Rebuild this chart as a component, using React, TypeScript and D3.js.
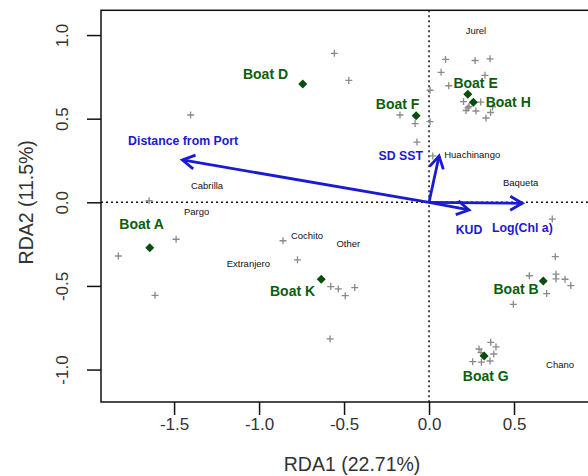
import React, { useRef, useEffect } from "react";
import * as d3 from "d3";

// site scores (grey crosses)
const sites: [number, number][] = [
  [0.097, 0.854], [0.271, 0.848], [0.359, 0.858], [0.071, 0.777], [0.329, 0.759],
  [0.116, 0.697], [0.006, 0.67], [0.203, 0.602], [0.304, 0.599], [0.235, 0.574],
  [0.218, 0.549], [0.276, 0.546], [0.374, 0.57], [0.362, 0.537], [0.335, 0.504],
  [0.229, 0.564],
  [-0.171, 0.522], [-0.082, 0.471], [0.006, 0.482], [-0.071, 0.36], [0.022, 0.277],
  [-0.557, 0.891], [-0.472, 0.729], [-1.403, 0.522],
  [-1.647, 0.01], [-1.488, -0.221], [-1.828, -0.321], [-1.612, -0.556],
  [-0.859, -0.23], [-0.774, -0.344], [-0.578, -0.504], [-0.534, -0.518],
  [-0.493, -0.558], [-0.437, -0.51], [-0.582, -0.817],
  [0.725, -0.1], [0.743, -0.325], [0.59, -0.439], [0.747, -0.43], [0.747, -0.458],
  [0.8, -0.46], [0.834, -0.498], [0.692, -0.546], [0.496, -0.61],
  [0.363, -0.837], [0.394, -0.865], [0.294, -0.877], [0.381, -0.907],
  [0.306, -0.899], [0.257, -0.953], [0.308, -0.956], [0.359, -0.949],
];

// boat centroids: name, x, y, label x, label y
const boats: [string, number, number, number, number][] = [
  ["Boat D", -0.743, 0.707, -0.962, 0.767],
  ["Boat F", -0.076, 0.518, -0.185, 0.588],
  ["Boat E", 0.228, 0.646, 0.274, 0.715],
  ["Boat H", 0.261, 0.598, 0.466, 0.6],
  ["Boat A", -1.643, -0.271, -1.691, -0.13],
  ["Boat K", -0.634, -0.46, -0.803, -0.53],
  ["Boat B", 0.672, -0.47, 0.512, -0.516],
  ["Boat G", 0.324, -0.919, 0.334, -1.042],
];

// species scores
const species: [string, number, number][] = [
  ["Jurel", 0.276, 1.026],
  ["Huachinango", 0.254, 0.287],
  ["Baqueta", 0.539, 0.115],
  ["Cabrilla", -1.306, 0.097],
  ["Pargo", -1.367, -0.056],
  ["Cochito", -0.718, -0.201],
  ["Other", -0.475, -0.249],
  ["Extranjero", -1.063, -0.365],
  ["Chano", 0.771, -0.971],
];

// environmental vectors: name, x, y, label x, label y
const envVars: [string, number, number, number, number][] = [
  ["Distance from Port", -1.451, 0.253, -1.447, 0.366],
  ["SD SST", 0.059, 0.277, -0.166, 0.277],
  ["KUD", 0.235, -0.046, 0.235, -0.166],
  ["Log(Chl a)", 0.549, -0.006, 0.549, -0.154],
];

const xTicks = [-1.5, -1.0, -0.5, 0.0, 0.5];
const yTicks = [-1.0, -0.5, 0.0, 0.5, 1.0];

export default function App() {
  const svgRef = useRef<SVGSVGElement>(null);

  useEffect(() => {
    const width = 588;
    const height = 476;
    const svg = d3.select(svgRef.current).attr("width", width).attr("height", height);
    svg.selectAll("*").remove();

    const x = d3.scaleLinear().domain([-1.93, 1.0]).range([101, 599]);
    const y = d3.scaleLinear().domain([-1.194, 1.148]).range([402, 10.3]);
    const font = "Arial, 'Liberation Sans', sans-serif";
    const fmt = (d: d3.NumberValue) => (+d).toFixed(1);

    // box
    svg
      .append("rect")
      .attr("x", x(-1.93))
      .attr("y", y(1.148))
      .attr("width", x(1.0) - x(-1.93))
      .attr("height", y(-1.194) - y(1.148))
      .attr("fill", "none")
      .attr("stroke", "#111")
      .attr("stroke-width", 1.5);

    // axes
    const xAxis = svg
      .append("g")
      .attr("transform", `translate(0,${y(-1.194)})`)
      .call(d3.axisBottom(x).tickValues(xTicks).tickSize(13).tickFormat(fmt));
    xAxis.select(".domain").remove();
    xAxis.selectAll("line").attr("stroke", "#111").attr("stroke-width", 1.5);
    xAxis
      .selectAll("text")
      .attr("font-family", font)
      .attr("font-size", 17)
      .attr("fill", "#333")
      .attr("y", 28)
      .attr("dy", 0);

    const yAxis = svg
      .append("g")
      .attr("transform", `translate(${x(-1.93)},0)`)
      .call(d3.axisLeft(y).tickValues(yTicks).tickSize(14).tickFormat(fmt));
    yAxis.select(".domain").remove();
    yAxis.selectAll("line").attr("stroke", "#111").attr("stroke-width", 1.5);
    yAxis
      .selectAll("text")
      .attr("font-family", font)
      .attr("font-size", 17)
      .attr("fill", "#333")
      .attr("x", 0)
      .attr("dy", 0)
      .attr("text-anchor", "middle")
      .attr("transform", "translate(-33,0) rotate(-90)");

    svg
      .append("text")
      .attr("x", x(-0.5) + 8)
      .attr("y", 471)
      .attr("text-anchor", "middle")
      .attr("font-family", font)
      .attr("font-size", 19.5)
      .attr("fill", "#333")
      .text("RDA1 (22.71%)");

    svg
      .append("text")
      .attr("transform", `translate(33,${y(0)}) rotate(-90)`)
      .attr("text-anchor", "middle")
      .attr("font-family", font)
      .attr("font-size", 19.5)
      .attr("fill", "#333")
      .text("RDA2 (11.5%)");

    // zero lines
    svg
      .append("line")
      .attr("x1", x(-1.93))
      .attr("x2", x(1.0))
      .attr("y1", y(0))
      .attr("y2", y(0))
      .attr("stroke", "#111")
      .attr("stroke-width", 1.5)
      .attr("stroke-dasharray", "2,3");
    svg
      .append("line")
      .attr("x1", x(0))
      .attr("x2", x(0))
      .attr("y1", y(1.148))
      .attr("y2", y(-1.194))
      .attr("stroke", "#111")
      .attr("stroke-width", 1.5)
      .attr("stroke-dasharray", "2,3");

    // site crosses
    svg
      .selectAll("site")
      .data(sites)
      .enter()
      .append("path")
      .attr("d", "M-3.5,0H3.5M0,-3.5V3.5")
      .attr("transform", (d) => `translate(${x(d[0])},${y(d[1])})`)
      .attr("stroke", "#8a8a8a")
      .attr("stroke-width", 1.3)
      .attr("fill", "none");

    // species labels
    svg
      .selectAll("species")
      .data(species)
      .enter()
      .append("text")
      .attr("x", (d) => x(d[1]))
      .attr("y", (d) => y(d[2]))
      .attr("dy", "0.35em")
      .attr("text-anchor", "middle")
      .attr("font-family", font)
      .attr("font-size", 9.5)
      .attr("fill", "#111")
      .text((d) => d[0]);

    // env arrows
    const blue = "#1a1ad2";
    const headLen = 14;
    const arrows = svg.selectAll("env").data(envVars).enter().append("g");
    arrows
      .append("line")
      .attr("x1", x(0))
      .attr("y1", y(0))
      .attr("x2", (d) => x(d[1]))
      .attr("y2", (d) => y(d[2]))
      .attr("stroke", blue)
      .attr("stroke-width", 2.8);
    arrows
      .append("path")
      .attr("d", (d) => {
        const tx = x(d[1]);
        const ty = y(d[2]);
        const ang = Math.atan2(ty - y(0), tx - x(0));
        const a1 = ang + Math.PI - Math.PI / 6;
        const a2 = ang + Math.PI + Math.PI / 6;
        return `M${tx + headLen * Math.cos(a1)},${ty + headLen * Math.sin(a1)}L${tx},${ty}L${
          tx + headLen * Math.cos(a2)
        },${ty + headLen * Math.sin(a2)}`;
      })
      .attr("fill", "none")
      .attr("stroke", blue)
      .attr("stroke-width", 2.8)
      .attr("stroke-linejoin", "miter");
    arrows
      .append("text")
      .attr("x", (d) => x(d[3]))
      .attr("y", (d) => y(d[4]))
      .attr("dy", "0.35em")
      .attr("text-anchor", "middle")
      .attr("font-family", font)
      .attr("font-weight", "bold")
      .attr("font-size", 12.3)
      .attr("fill", blue)
      .text((d) => d[0]);

    // boats
    const green = "#0b5e0b";
    svg
      .selectAll("boat")
      .data(boats)
      .enter()
      .append("path")
      .attr("d", "M0,-4.5L4.5,0L0,4.5L-4.5,0Z")
      .attr("transform", (d) => `translate(${x(d[1])},${y(d[2])})`)
      .attr("fill", "#0b4d0b");
    svg
      .selectAll("boatLabel")
      .data(boats)
      .enter()
      .append("text")
      .attr("x", (d) => x(d[3]))
      .attr("y", (d) => y(d[4]))
      .attr("dy", "0.35em")
      .attr("text-anchor", "middle")
      .attr("font-family", font)
      .attr("font-weight", "bold")
      .attr("font-size", 14)
      .attr("fill", green)
      .text((d) => d[0]);
  }, []);

  return <svg ref={svgRef} style={{ position: "absolute", left: 0, top: 0 }}></svg>;
}
